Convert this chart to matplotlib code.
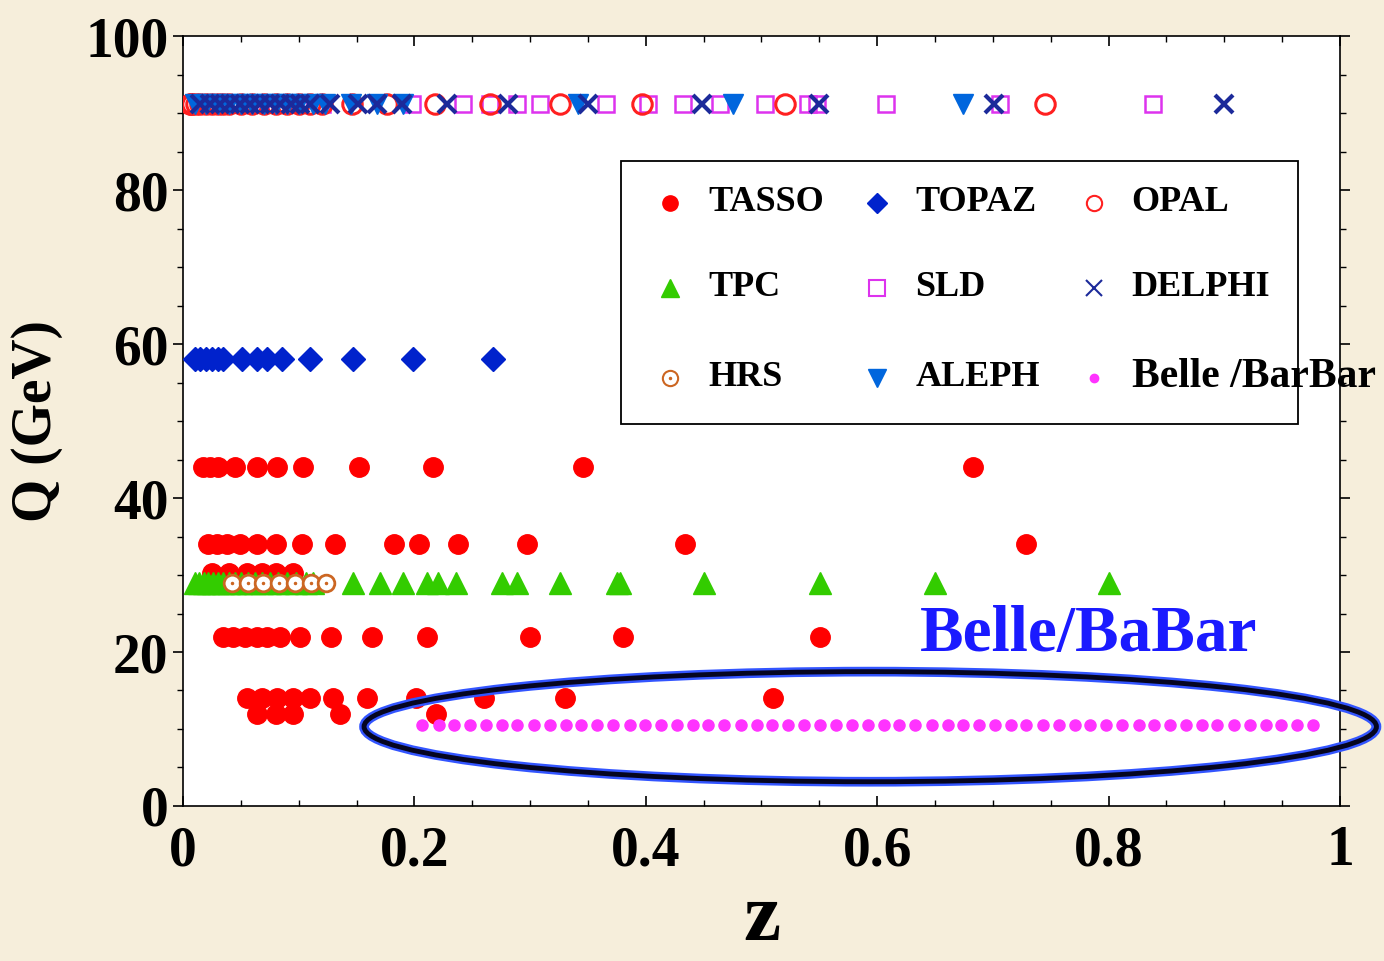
import numpy as np
import matplotlib
matplotlib.use('Agg')
import matplotlib.pyplot as plt
from matplotlib.patches import Ellipse, Rectangle

# ---- data (z, Q) ----
tasso_z_44 = [0.017, 0.023, 0.030, 0.045, 0.064, 0.081, 0.104, 0.152, 0.216, 0.346, 0.683]
tasso_z_34 = [0.022, 0.029, 0.038, 0.049, 0.064, 0.080, 0.103, 0.131, 0.182, 0.204,
              0.238, 0.297, 0.434, 0.729]
tasso_z_30 = [0.025, 0.040, 0.055, 0.068, 0.080, 0.095]
tasso_z_22 = [0.035, 0.043, 0.054, 0.064, 0.073, 0.084, 0.101, 0.128, 0.163, 0.211,
              0.300, 0.380, 0.551]
tasso_z_14 = [0.055, 0.068, 0.081, 0.095, 0.110, 0.130, 0.159, 0.201, 0.260, 0.330, 0.510]
tasso_z_12 = [0.064, 0.080, 0.095, 0.136, 0.219]

topaz_z = [0.010, 0.015, 0.020, 0.025, 0.030, 0.035, 0.051, 0.064, 0.073, 0.086,
           0.110, 0.147, 0.199, 0.268]
topaz_q = 58.0

tpc_z = [0.010, 0.014, 0.018, 0.022, 0.026, 0.030, 0.035, 0.040, 0.045, 0.050, 0.056,
         0.062, 0.068, 0.075, 0.082, 0.090, 0.098, 0.106, 0.112, 0.147, 0.170, 0.190,
         0.211, 0.220, 0.236, 0.276, 0.289, 0.326, 0.375, 0.378, 0.450, 0.551, 0.650, 0.800]
tpc_q = 29.0

hrs_z = [0.042, 0.056, 0.069, 0.083, 0.097, 0.111, 0.124]
hrs_q = 29.0

opal_z = [0.006, 0.007, 0.008, 0.011, 0.015, 0.020, 0.025, 0.030, 0.035, 0.040, 0.050,
          0.060, 0.070, 0.080, 0.090, 0.100, 0.110, 0.120, 0.146, 0.176, 0.218, 0.265,
          0.326, 0.397, 0.520, 0.745]
sld_z = [0.020, 0.040, 0.060, 0.080, 0.100, 0.120, 0.198, 0.242, 0.265, 0.289, 0.309,
         0.366, 0.402, 0.432, 0.464, 0.503, 0.540, 0.548, 0.608, 0.706, 0.838]
delphi_z = [0.015, 0.023, 0.032, 0.041, 0.049, 0.058, 0.067, 0.075, 0.084, 0.093, 0.101,
            0.110, 0.127, 0.151, 0.168, 0.189, 0.228, 0.281, 0.350, 0.449, 0.550, 0.701,
            0.900]
aleph_z = [0.010, 0.020, 0.030, 0.040, 0.050, 0.060, 0.070, 0.080, 0.090, 0.100, 0.112,
           0.123, 0.145, 0.168, 0.190, 0.341, 0.475, 0.674]
lep_q = 91.2

belle_z = [0.207, 0.221, 0.234, 0.248, 0.262, 0.276, 0.289, 0.303, 0.317, 0.331, 0.344,
           0.358, 0.372, 0.386, 0.399, 0.413, 0.427, 0.441, 0.454, 0.468, 0.482, 0.496,
           0.509, 0.523, 0.537, 0.551, 0.564, 0.578, 0.592, 0.606, 0.619, 0.633, 0.647,
           0.661, 0.674, 0.688, 0.702, 0.716, 0.729, 0.743, 0.757, 0.771, 0.784, 0.798,
           0.812, 0.826, 0.839, 0.853, 0.867, 0.881, 0.894, 0.908, 0.922, 0.936, 0.949,
           0.963, 0.977]
belle_q = 10.52

plt.rcParams['font.family'] = ['Liberation Serif', 'DejaVu Serif']
plt.rcParams['font.weight'] = 'bold'

fig = plt.figure(figsize=(13.84, 9.61), dpi=100, facecolor='#f6eedb')
ax = fig.add_axes([0.1322, 0.1613, 0.836, 0.8012])
ax.set_facecolor('white')

red = '#ff0000'
# TASSO
for zs, q in [(tasso_z_44, 44), (tasso_z_34, 34), (tasso_z_30, 30.2),
              (tasso_z_22, 22), (tasso_z_14, 14), (tasso_z_12, 12)]:
    ax.plot(zs, [q] * len(zs), 'o', color=red, ms=14, mec=red, zorder=3)

# TPC / HRS
ax.plot(tpc_z, [tpc_q] * len(tpc_z), '^', color='#33cc00', ms=16, mec='#33cc00', zorder=4)
ax.plot(hrs_z, [hrs_q] * len(hrs_z), 'o', mfc='white', mec='#cc6622', mew=2, ms=12, zorder=5)
ax.plot(hrs_z, [hrs_q] * len(hrs_z), '.', color='#cc6622', ms=3, zorder=6)

# TOPAZ
ax.plot(topaz_z, [topaz_q] * len(topaz_z), 'D', color='#0022cc', ms=12, zorder=3)

# LEP / SLC at the Z pole
ax.plot(sld_z, [lep_q] * len(sld_z), 's', mfc='none', mec='#dd33ee', mew=1.8, ms=12, zorder=3)
ax.plot(opal_z, [lep_q] * len(opal_z), 'o', mfc='none', mec='#ff2020', mew=2.2, ms=14, zorder=4)
ax.plot(aleph_z, [lep_q] * len(aleph_z), 'v', color='#0066dd', ms=15, zorder=4)
ax.plot(delphi_z, [lep_q] * len(delphi_z), 'x', color='#1c2a9a', mew=3, ms=13, zorder=5)

# Belle/BaBar
ax.plot(belle_z, [belle_q] * len(belle_z), 'o', color='#ff33ff', ms=8, mec='#ff33ff', zorder=4)

# ellipse around the Belle points
for lw, col in [(7, '#3355ff'), (3.5, '#050520')]:
    ax.add_patch(Ellipse((0.594, 10.3), 0.875, 14.3, fill=False, lw=lw, ec=col,
                         clip_on=False, zorder=6))
ax.text(0.637, 22.2, 'Belle/BaBar', color='#1a1aff', fontsize=47, fontweight='bold',
        ha='left', va='center', zorder=7)

ax.set_xlim(0, 1)
ax.set_ylim(0, 100)
ax.set_xticks([0, 0.2, 0.4, 0.6, 0.8, 1.0])
ax.set_xticklabels(['0', '0.2', '0.4', '0.6', '0.8', '1'])
ax.set_yticks([0, 20, 40, 60, 80, 100])
ax.set_xticks(np.arange(0, 1.001, 0.05), minor=True)
ax.set_yticks(np.arange(0, 100.1, 5), minor=True)
ax.tick_params(axis='both', which='major', labelsize=40, length=7, width=1.2)
ax.tick_params(axis='both', which='minor', length=4, width=1)
ax.tick_params(axis='x', which='both', direction='in', top=True)
ax.tick_params(axis='x', which='major', pad=14)
ax.tick_params(axis='y', which='both', direction='out', right=True)
for s in ax.spines.values():
    s.set_linewidth(1.2)

ax.set_xlabel('z', fontsize=60, fontweight='bold', labelpad=4)
ax.set_ylabel('Q (GeV)', fontsize=40, fontweight='bold', labelpad=16)

# legend drawn by hand (rows: TASSO TOPAZ OPAL / TPC SLD DELPHI / HRS ALEPH Belle)
ax.add_patch(Rectangle((0.379, 0.496), 0.585, 0.342, transform=ax.transAxes,
                       fc='white', ec='black', lw=1.3, zorder=8))
col_x = [0.421, 0.600, 0.787]
row_y = [0.783, 0.673, 0.556]
leg_items = [
    (0, 0, 'TASSO', dict(marker='o', color=red, ms=11)),
    (1, 0, 'TOPAZ', dict(marker='D', color='#0022cc', ms=10)),
    (2, 0, 'OPAL', dict(marker='o', mfc='none', mec='#ff2020', mew=1.5, ms=11)),
    (0, 1, 'TPC', dict(marker='^', color='#33cc00', ms=13)),
    (1, 1, 'SLD', dict(marker='s', mfc='none', mec='#dd33ee', mew=1.5, ms=11)),
    (2, 1, 'DELPHI', dict(marker='x', color='#1c2a9a', mew=1.5, ms=11)),
    (0, 2, 'HRS', dict(marker='o', mfc='none', mec='#cc6622', mew=1.5, ms=11)),
    (1, 2, 'ALEPH', dict(marker='v', color='#0066dd', ms=13)),
    (2, 2, 'Belle /BarBar', dict(marker='o', color='#ff33ff', ms=6)),
]
for c, r, name, style in leg_items:
    ax.plot([col_x[c]], [row_y[r]], ls='none', transform=ax.transAxes,
            clip_on=False, zorder=9, **style)
    size = 30 if name.startswith('Belle') else 26
    ax.text(col_x[c] + 0.033, row_y[r] + 0.001, name, transform=ax.transAxes,
            fontsize=size, fontweight='bold', ha='left', va='center', zorder=9)
# centre dot of the HRS legend marker
ax.plot([col_x[0]], [row_y[2]], '.', color='#cc6622', ms=3, transform=ax.transAxes,
        clip_on=False, zorder=10)

fig.savefig('out.png', dpi=100, facecolor=fig.get_facecolor())
